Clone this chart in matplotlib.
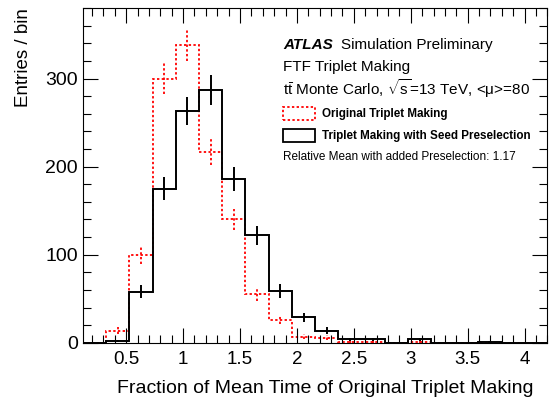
import numpy as np
import matplotlib
matplotlib.use("Agg")
import matplotlib.pyplot as plt
from matplotlib.ticker import MultipleLocator
from matplotlib.patches import Rectangle

plt.rcParams["font.family"] = ["Liberation Sans", "DejaVu Sans"]
plt.rcParams["mathtext.fontset"] = "custom"
plt.rcParams["mathtext.rm"] = "Liberation Sans"

# =========================
# data
# =========================
x_lo = 0.12
bin_w = 0.204
n_bins = 20

orig_counts = [0, 14, 100, 300, 338, 217, 140, 55, 26, 7,
               6, 1, 1, 0, 1, 0, 0, 0, 0, 0]
presel_counts = [0, 2, 58, 175, 263, 287, 186, 122, 59, 29,
                 14, 4, 4, 0, 4, 0, 0, 1, 0, 0]

xlabel = "Fraction of Mean Time of Original Triplet Making"
ylabel = "Entries / bin"
label_orig = "Original Triplet Making"
label_presel = "Triplet Making with Seed Preselection"
rel_mean_text = "Relative Mean with added Preselection: 1.17"

edges = x_lo + bin_w * np.arange(n_bins + 1)
centers = 0.5 * (edges[:-1] + edges[1:])
orig = np.array(orig_counts, dtype=float)
presel = np.array(presel_counts, dtype=float)

# =========================
# plot
# =========================
fig = plt.figure(figsize=(5.49, 4.01), dpi=100)
ax = fig.add_axes([0.151, 0.145, 0.846, 0.835])

red_ls = (0, (1.3, 1.3))
ax.stairs(orig, edges, color="red", lw=1.3, linestyle=red_ls)
ax.stairs(presel, edges, color="black", lw=1.4)

m = orig > 0
eb = ax.errorbar(centers[m], orig[m], yerr=np.sqrt(orig[m]), fmt="none",
                 ecolor="red", elinewidth=1.3, capsize=0)
eb[2][0].set_linestyle(red_ls)
m = presel > 0
ax.errorbar(centers[m], presel[m], yerr=np.sqrt(presel[m]), fmt="none",
            ecolor="black", elinewidth=1.4, capsize=0)

ax.set_xlim(x_lo, edges[-1])
ax.set_ylim(0, 380)

ax.xaxis.set_major_locator(MultipleLocator(0.5))
ax.xaxis.set_minor_locator(MultipleLocator(0.1))
ax.yaxis.set_major_locator(MultipleLocator(100))
ax.yaxis.set_minor_locator(MultipleLocator(20))
ax.tick_params(which="both", direction="in", top=True, right=True,
               width=0.8)
ax.tick_params(axis="x", labelsize=13.5, pad=6)
ax.tick_params(axis="y", labelsize=14)
ax.tick_params(which="major", length=11)
ax.tick_params(which="minor", length=5.5)
ax.xaxis.set_major_formatter(plt.FuncFormatter(lambda v, p: f"{v:g}"))
for s in ax.spines.values():
    s.set_linewidth(0.8)

ax.set_xlabel(xlabel, fontsize=14, ha="right")
ax.xaxis.set_label_coords(0.97, -0.11)
ax.set_ylabel(ylabel, fontsize=13.5, loc="top", labelpad=10)

# ATLAS label and info text
tx = 283 / 549
fig.text(tx, 1 - 45 / 401, "ATLAS", fontsize=11, fontweight="bold",
         fontstyle="italic", va="center")
fig.text(tx + 0.105, 1 - 45 / 401, "Simulation Preliminary", fontsize=11,
         va="center")
fig.text(tx, 1 - 67 / 401, "FTF Triplet Making", fontsize=11, va="center")
fig.text(tx, 1 - 89 / 401,
         r"t$\bar{\rm t}$ Monte Carlo, $\sqrt{\rm s}$=13 TeV, <μ>=80",
         fontsize=11, va="center")

# legend boxes
w_box, h_box = 32 / 549, 13 / 401
fig.patches.append(Rectangle((tx, 1 - 119.5 / 401), w_box, h_box,
                             transform=fig.transFigure, fill=False,
                             edgecolor="red", lw=1.3, linestyle=red_ls))
fig.patches.append(Rectangle((tx, 1 - 141.5 / 401), w_box, h_box,
                             transform=fig.transFigure, fill=False,
                             edgecolor="black", lw=1.3))
fig.text(322 / 549, 1 - 113.5 / 401, label_orig, fontsize=8.4,
         fontweight="bold", va="center")
fig.text(322 / 549, 1 - 135.5 / 401, label_presel, fontsize=8.4,
         fontweight="bold", va="center")
fig.text(tx, 1 - 157 / 401, rel_mean_text, fontsize=8.5, va="center")

plt.savefig("out.png", dpi=100)
